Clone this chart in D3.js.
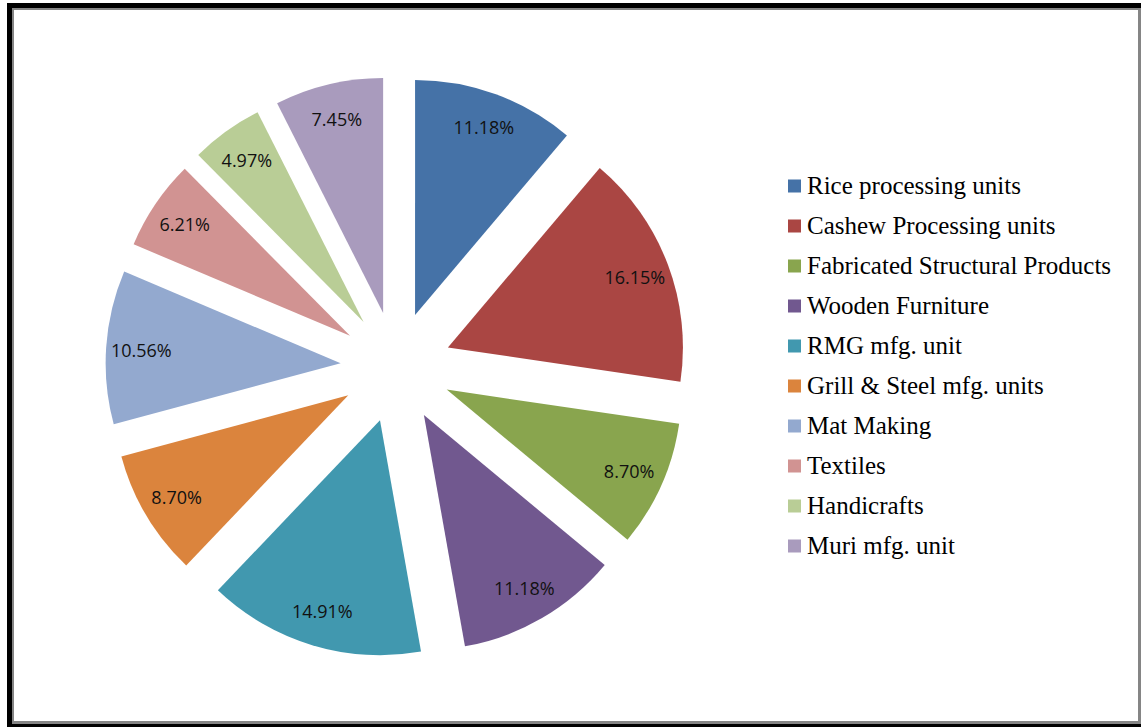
<!DOCTYPE html>
<html>
<head>
<meta charset="utf-8">
<script src="https://cdn.jsdelivr.net/npm/d3@7"></script>
<style>
  html, body { margin: 0; padding: 0; background: #fff; }
  svg { display: block; }
</style>
</head>
<body>
<div id="chart"></div>
<script>
const categories = [
    "Rice processing units",
    "Cashew Processing units",
    "Fabricated Structural Products",
    "Wooden Furniture",
    "RMG mfg. unit",
    "Grill & Steel mfg. units",
    "Mat Making",
    "Textiles",
    "Handicrafts",
    "Muri mfg. unit"
];
const shares = [11.18, 16.15, 8.70, 11.18, 14.91, 8.70, 10.56, 6.21, 4.97, 7.45];
const colors = ["#4572A7", "#AA4643", "#89A54E", "#71588F", "#4198AF",
                "#DB843D", "#93A9CF", "#D19392", "#B9CD96", "#A99BBD"];

const W = 1141, H = 727;
const svg = d3.select("#chart").append("svg")
    .attr("width", W)
    .attr("height", H);

// frame: black outer line, grey inner line
svg.append("rect").attr("x", 7).attr("y", 3).attr("width", 1150).attr("height", 740).attr("fill", "#000");
svg.append("rect").attr("x", 12).attr("y", 8).attr("width", 1129).attr("height", 716).attr("fill", "#858585");
svg.append("rect").attr("x", 14).attr("y", 10).attr("width", 1124).attr("height", 711).attr("fill", "#fff");

// exploded pie
const cx = 396, cy = 367;
const radius = 235;
const explode = 55.5;

const pie = d3.pie().sort(null).value(d => d);
const arc = d3.arc().innerRadius(0).outerRadius(radius);
const arcs = pie(shares);

const g = svg.append("g").attr("transform", `translate(${cx},${cy})`);

const slice = g.selectAll("g.slice")
    .data(arcs)
    .join("g")
    .attr("class", "slice")
    .attr("transform", d => {
        const a = (d.startAngle + d.endAngle) / 2;
        return `translate(${explode * Math.sin(a)},${-explode * Math.cos(a)})`;
    });

slice.append("path")
    .attr("d", arc)
    .attr("fill", (d, i) => colors[i]);

slice.append("text")
    .attr("x", d => 0.85 * radius * Math.sin((d.startAngle + d.endAngle) / 2))
    .attr("y", d => -0.85 * radius * Math.cos((d.startAngle + d.endAngle) / 2))
    .attr("text-anchor", "middle")
    .attr("dominant-baseline", "central")
    .style("font-family", "'Open Sans', sans-serif")
    .style("font-size", "18px")
    .attr("fill", "#111")
    .text(d => d.data.toFixed(2) + "%");

// legend
const legend = svg.append("g").attr("transform", "translate(788,186)");
const row = legend.selectAll("g")
    .data(categories)
    .join("g")
    .attr("transform", (d, i) => `translate(0,${i * 40})`);

row.append("rect")
    .attr("x", 0)
    .attr("y", -6.5)
    .attr("width", 13)
    .attr("height", 13)
    .attr("fill", (d, i) => colors[i]);

row.append("text")
    .attr("x", 19)
    .attr("y", 8)
    .style("font-family", "'Liberation Serif', 'Times New Roman', serif")
    .style("font-size", "25px")
    .attr("fill", "#000")
    .text(d => d);
</script>
</body>
</html>
